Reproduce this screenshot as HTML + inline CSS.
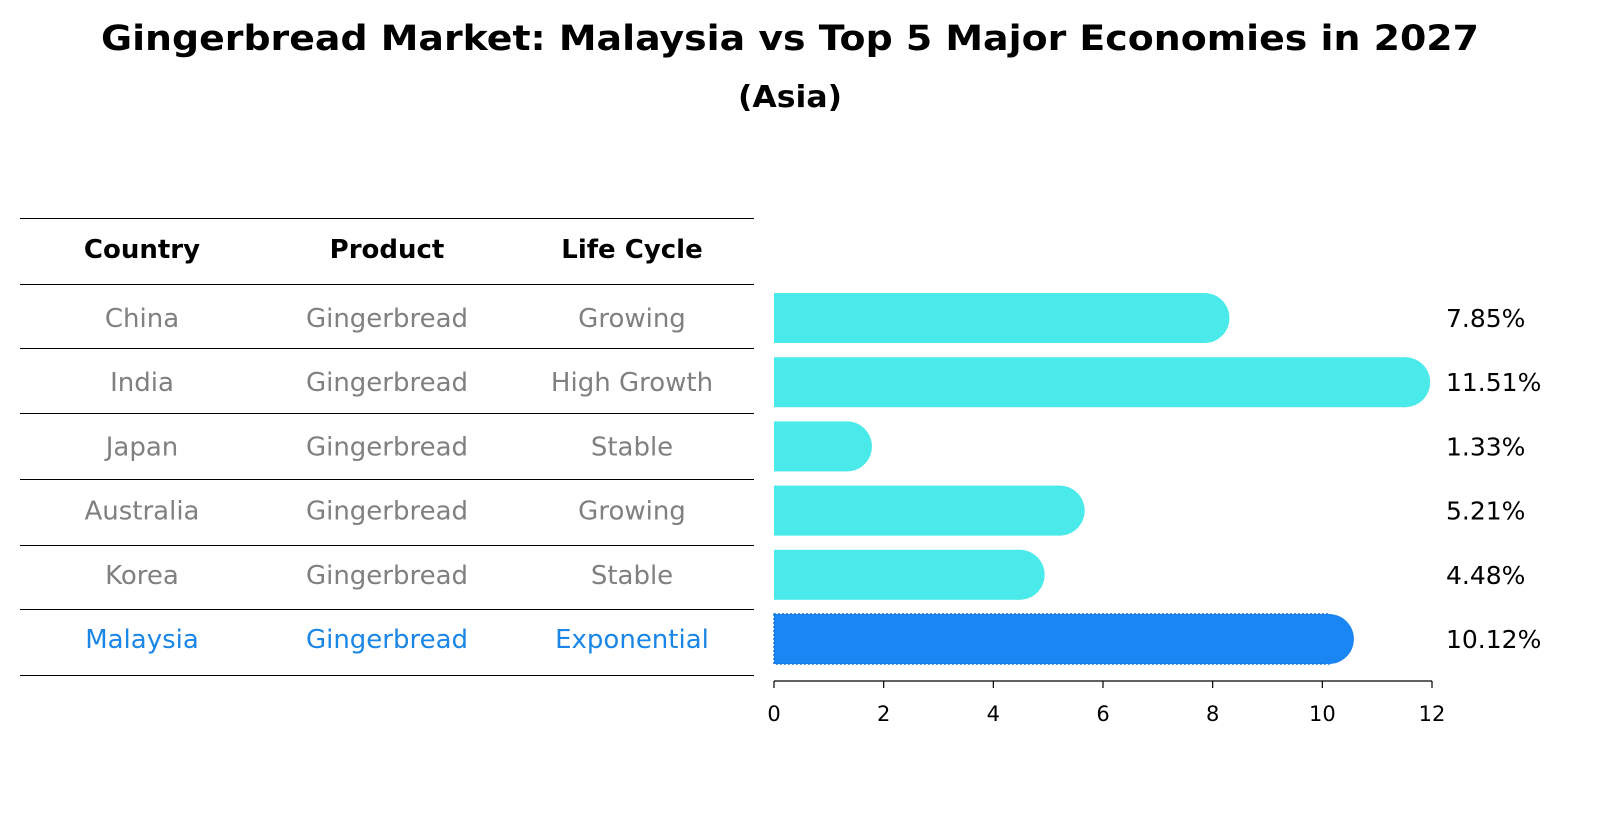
<!DOCTYPE html>
<html><head><meta charset="utf-8"><style>
body{margin:0;background:#fff;font-family:"Liberation Sans","DejaVu Sans",sans-serif}
svg text{font-family:"DejaVu Sans","Liberation Sans",sans-serif}
</style></head><body>
<svg id="c" width="1604" height="823">
<text x="790" y="50" text-anchor="middle" font-size="35" font-weight="bold" textLength="1378" lengthAdjust="spacingAndGlyphs">Gingerbread Market: Malaysia vs Top 5 Major Economies in 2027</text>
<text x="790" y="107" text-anchor="middle" font-size="30" font-weight="bold" textLength="104" lengthAdjust="spacingAndGlyphs">(Asia)</text>
<g id="tbl"></g>
<g id="bars"></g>
<g id="axis"></g>
</svg>
<script>
const countries=["China","India","Japan","Australia","Korea","Malaysia"];
const products=["Gingerbread","Gingerbread","Gingerbread","Gingerbread","Gingerbread","Gingerbread"];
const lifecycles=["Growing","High Growth","Stable","Growing","Stable","Exponential"];
const growth=[7.85,11.51,1.33,5.21,4.48,10.12];
const ticks=[0,2,4,6,8,10,12];
const NS="http://www.w3.org/2000/svg";
function mk(t,a,p){const e=document.createElementNS(NS,t);for(const k in a)e.setAttribute(k,a[k]);p.appendChild(e);return e;}
const x0=774,x1=1432,xmax=12;
const X=v=>x0+(x1-x0)*v/xmax;
const rowY=i=>318+i*64.2;
const tbl=document.getElementById('tbl');
const lines=[218,284,348,413,479,545,609,675];
lines.forEach((y,i)=>{const l=mk('line',{x1:20,x2:754,y1:y+0.5,y2:y+0.5,stroke:'#000','stroke-width':1},tbl);

});
const cx=[142,387,632];
["Country","Product","Life Cycle"].forEach((h,j)=>{const t=mk('text',{x:cx[j],y:258,'text-anchor':'middle','font-size':26,'font-weight':'bold'},tbl);t.textContent=h;

});
countries.forEach((c,i)=>{const col=i===countries.length-1?'#1a86e6':'#808080';
[c,products[i],lifecycles[i]].forEach((v,j)=>{const t=mk('text',{x:cx[j],y:rowY(i)+9,'text-anchor':'middle','font-size':26,fill:col},tbl);t.textContent=v;

});});
const bars=document.getElementById('bars');
growth.forEach((v,i)=>{const last=i===growth.length-1;const col=last?'#1a86f4':'#4aeaea';const y=rowY(i),h=50;
const g=mk('g',{},bars);


const st=last?{stroke:'#1570d0','stroke-width':1.5,'stroke-dasharray':'2 2'}:{};
mk('rect',Object.assign({x:x0,y:y-h/2,width:X(v)-x0,height:h,fill:col},st),g);
mk('circle',{cx:X(v),cy:y,r:h/2,fill:col},g);
const t=mk('text',{x:1446,y:y+9,'font-size':25},bars);t.textContent=v.toFixed(2)+'%';

});
const ax=document.getElementById('axis');
mk('line',{x1:x0,x2:x1,y1:681,y2:681,stroke:'#000','stroke-width':1.2},ax);
ticks.forEach(v=>{mk('line',{x1:X(v),x2:X(v),y1:681,y2:688,stroke:'#000','stroke-width':1.2},ax);
const t=mk('text',{x:X(v),y:721,'text-anchor':'middle','font-size':21},ax);t.textContent=v;

});
</script>
</body></html>
